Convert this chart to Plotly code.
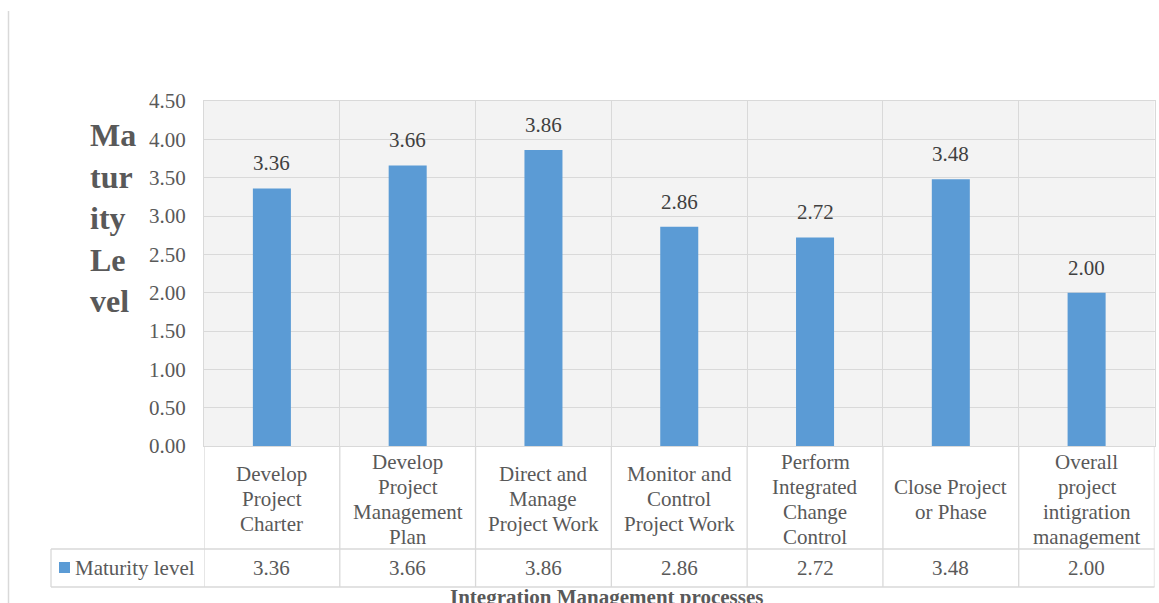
import plotly.graph_objects as go

categories = [
    "Develop<br>Project<br>Charter",
    "Develop<br>Project<br>Management<br>Plan",
    "Direct and<br>Manage<br>Project Work",
    "Monitor and<br>Control<br>Project Work",
    "Perform<br>Integrated<br>Change<br>Control",
    "Close Project<br>or Phase",
    "Overall<br>project<br>intigration<br>management",
]
values = [3.36, 3.66, 3.86, 2.86, 2.72, 3.48, 2.00]
series_name = "Maturity level"
y_ticks = [0.0, 0.5, 1.0, 1.5, 2.0, 2.5, 3.0, 3.5, 4.0, 4.5]
y_title = "Ma<br>tur<br>ity<br>Le<br>vel"
x_title = "Integration Management processes"

W, H = 1159, 603
FONT = "Liberation Serif"
BAR = "#5b9bd5"
GRID = "#d9d9d9"
TXT = "#595959"
LINE_STEP = 25  # px between lines of category labels


def px(x):
    return x / W


def py(y):
    return 1 - y / H


idx = list(range(len(categories)))

fig = go.Figure()
fig.add_trace(go.Bar(
    x=idx, y=values, marker=dict(color=BAR, line=dict(width=0)),
    name=series_name, showlegend=False, hoverinfo="skip",
))

annotations = []
# data labels above bars
for i, v in zip(idx, values):
    annotations.append(dict(
        x=i, y=v, xref="x", yref="y", text=f"{v:.2f}", showarrow=False,
        yanchor="bottom", yshift=11, font=dict(family=FONT, size=21, color="#404040"),
    ))
# category labels (table header row), one annotation per line for tighter spacing
for i, c in zip(idx, categories):
    parts = c.split("<br>")
    n = len(parts)
    for j, part in enumerate(parts):
        yc = 499 + (j - (n - 1) / 2) * LINE_STEP
        annotations.append(dict(
            x=i, y=py(yc), xref="x", yref="paper", text=part, showarrow=False,
            yanchor="middle", align="center", font=dict(family=FONT, size=21, color=TXT),
        ))
# data table values
for i, v in zip(idx, values):
    annotations.append(dict(
        x=i, y=py(568), xref="x", yref="paper", text=f"{v:.2f}", showarrow=False,
        yanchor="middle", font=dict(family=FONT, size=21, color=TXT),
    ))
# legend key text
annotations.append(dict(
    x=px(73), y=py(568), xref="paper", yref="paper", text=series_name, showarrow=False,
    xanchor="left", yanchor="middle", font=dict(family=FONT, size=21, color=TXT),
))
# y title
annotations.append(dict(
    x=px(88), y=py(218), xref="paper", yref="paper",
    text="<b>" + y_title.replace("<br>", "</b><br><b>") + "</b>",
    showarrow=False, xanchor="left", yanchor="middle", align="left",
    font=dict(family=FONT, size=32, color=TXT),
))
# x title (partly cut at the bottom edge, as in the source)
annotations.append(dict(
    x=px(606), y=py(583), xref="paper", yref="paper", text="<b>" + x_title + "</b>",
    showarrow=False, xanchor="center", yanchor="top",
    font=dict(family=FONT, size=21, color=TXT),
))

shapes = []
line = dict(color=GRID, width=1.3)
# vertical table lines at category boundaries
for k in range(len(categories) + 1):
    shapes.append(dict(type="line", xref="x", yref="paper", x0=k - 0.5, x1=k - 0.5,
                       y0=py(446), y1=py(587), line=line))
# horizontal table lines
for yy in (549, 587):
    shapes.append(dict(type="line", xref="paper", yref="paper", x0=px(51), x1=px(1154.5),
                       y0=py(yy), y1=py(yy), line=line))
shapes.append(dict(type="line", xref="paper", yref="paper", x0=px(51), x1=px(51),
                   y0=py(549), y1=py(587), line=line))
# legend key square
shapes.append(dict(type="rect", xref="paper", yref="paper", x0=px(59), x1=px(70),
                   y0=py(573), y1=py(562), fillcolor=BAR, line=dict(width=0)))
# chart frame left edge
shapes.append(dict(type="line", xref="paper", yref="paper", x0=px(8.5), x1=px(8.5),
                   y0=py(11), y1=0, line=dict(color="#d9d9d9", width=1.5)))

fig.update_layout(
    template="none",
    width=W, height=H, margin=dict(l=0, r=0, t=0, b=0, pad=0, autoexpand=False),
    autosize=False,
    paper_bgcolor="white", plot_bgcolor="#f3f3f3",
    bargap=0.72,
    font=dict(family=FONT, size=21, color=TXT),
    xaxis=dict(
        type="linear", range=[-0.5, len(categories) - 0.5],
        domain=[px(204), px(1154.5)], automargin=False,
        tickmode="array", tickvals=[k - 0.5 for k in range(len(categories) + 1)],
        showticklabels=False, ticks="", showgrid=True, gridcolor=GRID, gridwidth=1.3,
        showline=True, mirror=True, linecolor=GRID, linewidth=1.3, zeroline=False,
        fixedrange=True,
    ),
    yaxis=dict(
        range=[0, 4.5], domain=[py(446), py(101)], automargin=False,
        tickmode="array", tickvals=y_ticks, ticktext=[f"{t:.2f}" for t in y_ticks],
        showgrid=True, gridcolor=GRID, gridwidth=1.3,
        showline=True, mirror=True, linecolor=GRID, linewidth=1.3, zeroline=False,
        ticks="outside", ticklen=13, tickcolor="rgba(0,0,0,0)",
        tickfont=dict(family=FONT, size=21, color=TXT), fixedrange=True,
    ),
    annotations=annotations,
    shapes=shapes,
)

fig.write_html("out.html", config={"displayModeBar": False})
